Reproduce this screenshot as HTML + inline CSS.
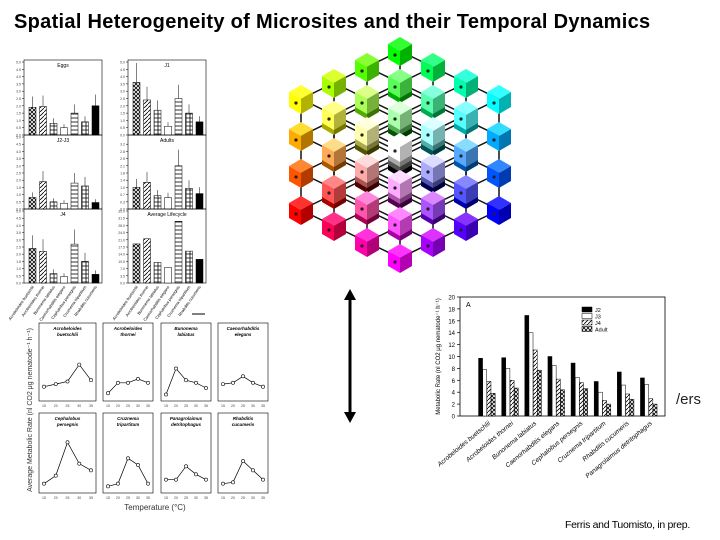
<!DOCTYPE html>
<html><head><meta charset="utf-8"><style>
body{margin:0;background:#fff;width:720px;height:540px;overflow:hidden;font-family:"Liberation Sans",sans-serif;position:relative}
#title{position:absolute;left:14px;top:11px;font-size:20px;font-weight:bold;color:#000;white-space:nowrap;letter-spacing:0.3px}
#credit{position:absolute;left:565px;top:519px;font-size:10.5px;color:#000;letter-spacing:-0.3px}
#vers{position:absolute;left:676px;top:391px;font-size:15px;color:#222}
svg{position:absolute;left:0;top:0}
</style></head><body>
<div id="title">Spatial Heterogeneity of Microsites and their Temporal Dynamics</div>
<div id="vers">/ers</div>
<div id="credit">Ferris and Tuomisto, in prep.</div>
<svg id="s" width="720" height="540"></svg>
<script>
// ---- right chart data ----
const species = ["Acrobeloides buetschlii","Acrobeloides thornei","Bunonema labiatus","Caenorhabditis elegans","Cephalobus persegnis","Cruznema tripartitum","Rhabditis cucumeris","Panagrolaimus detritophagus"];
const seriesNames = ["J2","J3","J4","Adult"];
const valJ2 = [9.7,9.8,16.9,10,8.9,5.8,7.4,6.4];
const valJ3 = [7.8,8,14,8.5,6.5,4,5.2,5.3];
const valJ4 = [5.8,6,11.1,6.2,5.6,2.6,3.7,2.9];
const valAdult = [3.8,4.7,7.7,4.4,4.6,2,2.8,2];
const yTicks = [0,2,4,6,8,10,12,14,16,18,20];
// ---- left bar panels ----
const panelLabels = ["Eggs","J1","J2-J3","Adults","J4","Average Lifecycle"];
const panelMax = [5,5,5,3.5,5,35];
const pEggs = [1.9,1.95,0.8,0.5,1.5,0.9,2.0];
const pJ1 = [3.6,2.4,1.7,0.6,2.5,1.5,0.9];
const pJ23 = [0.8,1.9,0.5,0.4,1.8,1.6,0.45];
const pAdults = [1.05,1.3,0.65,0.55,2.1,1.0,0.75];
const pJ4 = [2.4,2.2,0.65,0.45,2.7,1.5,0.6];
const pLife = [19,21.5,10,7.5,30,15.5,11.5];
// ---- temperature line panels ----
const temps = [15,20,25,30,35];
const lineSp = ["Acrobeloides buetschlii","Acrobeloides thornei","Bunonema labiatus","Caenorhabditis elegans","Cephalobus persegnis","Cruznema tripartitum","Panagrolaimus detritophagus","Rhabditis cucumeris"];
const l1=[5.5,6.5,7.5,14,8], l2=[3,7,7,8.5,7], l3=[2.5,12.5,8,7,5], l4=[6.5,7,9.5,7,5.5];
const l5=[3.5,6.5,19,11,8.5], l6=[2.5,3.5,13,10.5,3.5], l7=[5,5,10,7,5], l8=[3.5,4,12,8.5,5];

const S=document.getElementById('s');const NS='http://www.w3.org/2000/svg';
function el(t,a,p){const e=document.createElementNS(NS,t);for(const k in a)e.setAttribute(k,a[k]);(p||S).appendChild(e);return e;}
const defs=el('defs',{});
function pat(id,d,bg){const p=el('pattern',{id:id,width:4,height:4,patternUnits:'userSpaceOnUse'},defs);el('rect',{width:4,height:4,fill:bg||'#fff'},p);if(d)el('path',{d:d,stroke:'#000','stroke-width':0.8,fill:'none'},p);}
pat('diag','M0,4L4,0');pat('cross','M0,4L4,0M0,0L4,4');pat('hor','M0,2H4');pat('grid','M0,2H4M2,0V4');
const fills=['url(#cross)','url(#diag)','url(#grid)','#fff','url(#hor)','url(#grid)','#000'];

// ---- right chart ----
const g=el('g',{});

const X0=460,X1=665,Y0=416,Y1=297;
const ys=v=>Y0-(v/20)*(Y0-Y1);
el('rect',{x:X0,y:Y1,width:X1-X0,height:Y0-Y1,fill:'none',stroke:'#000','stroke-width':0.8},g);
yTicks.forEach(t=>{el('line',{x1:X0-3,x2:X0,y1:ys(t),y2:ys(t),stroke:'#000','stroke-width':0.7},g);
 const tx=el('text',{x:X0-5,y:ys(t)+2.5,'font-size':6,'text-anchor':'end'},g);tx.textContent=t;});
const yt=el('text',{x:0,y:0,'font-size':6,transform:`translate(${X0-20},${(Y0+Y1)/2}) rotate(-90)`,'text-anchor':'middle'},g);
yt.textContent='Metabolic Rate (nl CO2 μg nematode⁻¹ h⁻¹)';
el('text',{x:X0+6,y:Y1+10,'font-size':7},g).textContent='A';
const sFill=['#000','#fff','url(#diag)','url(#cross)'];
const allVals=[valJ2,valJ3,valJ4,valAdult];
const step=(X1-X0-20)/species.length;
species.forEach((sp,i)=>{
 const cx=X0+21+i*step+step/2-6;
 allVals.forEach((arr,j)=>{
  const b=el('rect',{x:cx-8+j*4.2,y:ys(arr[i]),width:4,height:Y0-ys(arr[i]),fill:sFill[j],stroke:'#000','stroke-width':0.5},g);
  
 });
 const t=el('text',{x:0,y:0,'font-size':6.5,'font-style':'italic','text-anchor':'end',transform:`translate(${cx+4},${Y0+8}) rotate(-40)`},g);t.textContent=sp;
});
seriesNames.forEach((n,j)=>{const ly=Y1+10+j*6.5;
 el('rect',{x:582,y:ly,width:10,height:5,fill:sFill[j],stroke:'#000','stroke-width':0.5},g);
 el('text',{x:595,y:ly+5,'font-size':5.5},g).textContent=n;});

// ---- left bar panels ----
const pdata=[pEggs,pJ1,pJ23,pAdults,pJ4,pLife];
const pos=[[24,60,135],[128,60,135],[24,135,209],[128,135,209],[24,209,283],[128,209,283]];
pdata.forEach((arr,k)=>{
 const [x0,yt0,yb]=pos[k],w=78;
 const pg=el('g',{});
 el('rect',{x:x0,y:yt0,width:w,height:yb-yt0,fill:'none',stroke:'#000','stroke-width':0.6},pg);
 const sc=v=>yb-v/panelMax[k]*(yb-yt0-2);
 for(let t=0;t<=panelMax[k];t+=panelMax[k]/10){el('line',{x1:x0-2,x2:x0,y1:sc(t),y2:sc(t),stroke:'#000','stroke-width':0.5},pg);
  el('text',{x:x0-3,y:sc(t)+1.5,'font-size':3.5,'text-anchor':'end',fill:'#444'},pg).textContent=t.toFixed(1);}
 el('text',{x:x0+w/2,y:yt0+7,'font-size':5,'text-anchor':'middle'},pg).textContent=panelLabels[k];
 arr.forEach((v,i)=>{const bx=x0+5+i*10.5;
  const r=el('rect',{x:bx,y:sc(v),width:7,height:yb-sc(v),fill:fills[i],stroke:'#000','stroke-width':0.5},pg);
  
  if(k<5)el('line',{x1:bx+3.5,x2:bx+3.5,y1:sc(v),y2:sc(v*1.35)-1,stroke:'#000','stroke-width':0.5},pg);
  if(k>=4){const t=el('text',{x:0,y:0,'font-size':4,'text-anchor':'end',transform:`translate(${bx+5},${yb+4}) rotate(-55)`},pg);t.textContent=species[i];}
 });
});
el('line',{x1:192,x2:205,y1:314,y2:314,stroke:'#000','stroke-width':1});

// ---- line panels ----
const ldata=[l1,l2,l3,l4,l5,l6,l7,l8];
const lx=[39,103,161,218],lrow=[[323,401],[413,493]];
ldata.forEach((arr,k)=>{
 const x0=lx[k%4],w=k%4==0?57:50,[yt0,yb]=lrow[Math.floor(k/4)];
 const lg=el('g',{});
 el('rect',{x:x0,y:yt0,width:w,height:yb-yt0,fill:'none',stroke:'#000','stroke-width':0.6},lg);
 const sx=t=>x0+5+(t-15)/20*(w-10),sy=v=>yb-v/30*(yb-yt0);
 temps.forEach(t=>el('text',{x:sx(t),y:yb+6,'font-size':3.5,'text-anchor':'middle',fill:'#444'},lg).textContent=t);
 const n=lineSp[k].split(' ');
 el('text',{x:x0+w/2,y:yt0+7,'font-size':4.5,'font-weight':'bold','font-style':'italic','text-anchor':'middle'},lg).textContent=n[0];
 el('text',{x:x0+w/2,y:yt0+13,'font-size':4.5,'font-weight':'bold','font-style':'italic','text-anchor':'middle'},lg).textContent=n[1];
 el('polyline',{points:arr.map((v,i)=>sx(temps[i])+','+sy(v)).join(' '),fill:'none',stroke:'#000','stroke-width':0.7},lg);
 arr.forEach((v,i)=>el('circle',{cx:sx(temps[i]),cy:sy(v),r:1.6,fill:'#fff',stroke:'#000','stroke-width':0.6},lg));
});
const ya=el('text',{x:0,y:0,'font-size':7,fill:'#333','text-anchor':'middle',transform:'translate(32,410) rotate(-90)'});ya.textContent='Average Metabolic Rate (nl CO2 μg nematode⁻¹ h⁻¹)';
el('text',{x:155,y:510,'font-size':8,fill:'#333','text-anchor':'middle'}).textContent='Temperature (°C)';

// ---- arrow ----
const ar=el('g',{});
el('line',{x1:350,x2:350,y1:298,y2:414,stroke:'#000','stroke-width':3},ar);
el('polygon',{points:'344,300 356,300 350,289',fill:'#000'},ar);
el('polygon',{points:'344,412 356,412 350,423',fill:'#000'},ar);

// ---- cube ----
const cg=el('g',{});
const P=(x,y,z)=>[400-33*x+33*y,258-16*x-16*y-37*z];
const cubes=[];for(let x=0;x<4;x++)for(let y=0;y<4;y++)for(let z=0;z<4;z++)cubes.push([x,y,z]);
cubes.sort((a,b)=>(b[0]+b[1])-(a[0]+a[1])||a[2]-b[2]);
function ln(a,b){el('line',{x1:a[0],y1:a[1],x2:b[0],y2:b[1],stroke:'#111','stroke-width':1.5},cg);}
for(let i=0;i<4;i++)for(let j=0;j<4;j++){ln(P(i,j,0),P(i,j,3));ln(P(i,0,j),P(i,3,j));ln(P(0,i,j),P(3,i,j));}
cubes.forEach(([x,y,z])=>{
 const [cx,cy]=P(x,y,z);const R=Math.round(255*(1-y/3)),G=Math.round(255*z/3),B=Math.round(255*(1-x/3));
 const c=`rgb(${R},${G},${B})`,dk=`rgb(${R*.7|0},${G*.7|0},${B*.7|0})`,lt=`rgb(${Math.min(255,R+50)},${Math.min(255,G+50)},${Math.min(255,B+50)})`;
 const s=12,h=7;
 el('polygon',{points:`${cx-s},${cy-h} ${cx},${cy} ${cx},${cy+s+3} ${cx-s},${cy+s+3-h}`,fill:c},cg);
 el('polygon',{points:`${cx},${cy} ${cx+s},${cy-h} ${cx+s},${cy+s+3-h} ${cx},${cy+s+3}`,fill:dk},cg);
 el('polygon',{points:`${cx-s},${cy-h} ${cx},${cy-2*h} ${cx+s},${cy-h} ${cx},${cy}`,fill:lt},cg);
 el('circle',{cx:cx-5,cy:cy+4,r:1.6,fill:'#222'},cg);
});
</script>
</body></html>
